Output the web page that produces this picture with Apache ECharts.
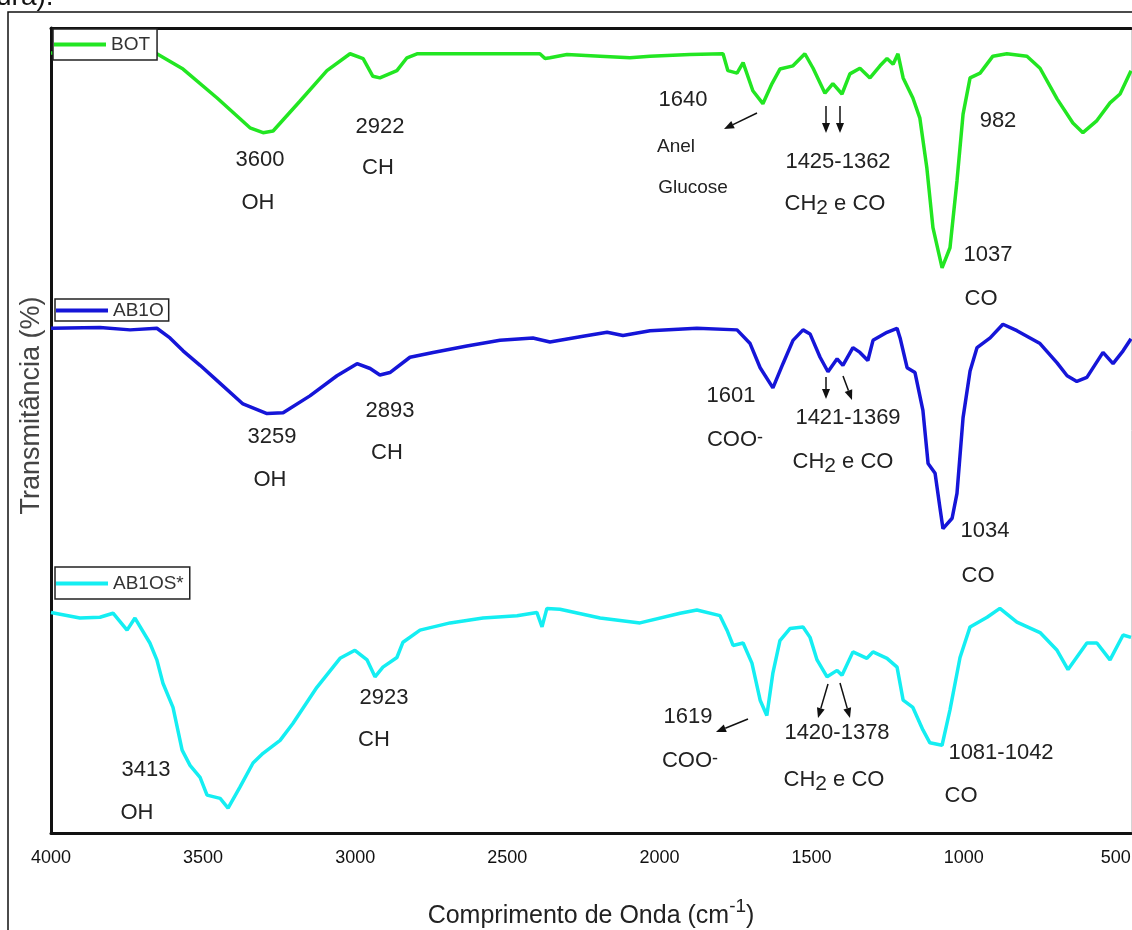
<!DOCTYPE html>
<html>
<head>
<meta charset="utf-8">
<script src="https://cdn.jsdelivr.net/npm/echarts@6/dist/echarts.min.js"></script>
<style>
  html, body { margin: 0; padding: 0; background: #fff; overflow: hidden; }
  #chart { width: 1132px; height: 930px; }
</style>
</head>
<body>
<div id="chart"></div>
<script>
// FTIR spectra: wavenumber (cm-1) and transmittance (offset, arbitrary %)
const xTicks = [4000, 3500, 3000, 2500, 2000, 1500, 1000, 500];

const botWn = [4000,3839,3652,3566,3454,3346,3303,3270,3182,3093,3017,2974,2942,2919,2863,2830,2797,2590,2393,2376,2360,2304,2195,2097,2031,1900,1791,1775,1745,1725,1693,1660,1630,1604,1561,1522,1495,1456,1430,1400,1374,1341,1308,1275,1252,1232,1216,1199,1167,1144,1121,1101,1071,1045,1022,1002,979,946,904,858,792,749,693,641,608,562,519,486,450];
const botT  = [96.9,96.9,96.8,94.9,91.3,87.6,87.0,87.2,90.9,94.7,96.8,96.2,94.0,93.8,94.7,96.3,96.8,96.8,96.8,96.2,96.3,96.7,96.5,96.3,96.5,96.7,96.8,94.7,94.4,95.7,92.2,90.6,93.1,94.9,95.3,96.8,95.0,91.9,93.1,91.8,94.3,95.0,93.8,95.3,96.2,95.5,96.8,93.8,91.3,88.8,82.6,75.2,70.2,72.7,81.0,89.3,93.8,94.4,96.5,96.8,96.5,95.0,91.2,88.2,87.0,88.5,90.7,91.8,94.7];

const ab1oWn = [4000,3839,3740,3652,3609,3566,3510,3454,3369,3290,3237,3149,3060,2994,2951,2919,2886,2820,2744,2633,2524,2416,2360,2251,2172,2120,2031,1877,1745,1702,1669,1627,1594,1561,1528,1505,1472,1446,1416,1397,1364,1341,1315,1298,1252,1219,1209,1186,1160,1134,1117,1094,1078,1068,1038,1022,1002,979,956,913,871,825,749,693,660,628,595,542,509,476,450];
const ab1oT  = [62.7,62.8,62.5,62.7,61.5,59.9,58.1,56.2,53.3,52.1,52.2,54.3,56.8,58.3,57.7,56.9,57.2,59.1,59.7,60.5,61.2,61.5,61.0,61.7,62.2,61.8,62.4,62.7,62.5,60.8,57.8,55.3,58.3,61.2,62.5,62.0,59.1,57.3,58.9,58.1,60.3,59.7,58.7,61.2,62.2,62.7,61.5,57.8,57.2,52.5,45.9,44.7,40.4,37.8,39.1,42.2,51.6,57.4,60.3,61.5,63.2,62.4,60.8,58.4,56.8,56.1,56.6,59.7,58.3,59.9,61.4];

const ab1osWn = [4000,3905,3839,3796,3750,3724,3675,3652,3632,3599,3569,3543,3510,3487,3444,3418,3379,3336,3303,3247,3205,3126,3050,3001,2961,2935,2909,2863,2843,2787,2688,2580,2468,2403,2386,2370,2327,2195,2064,1932,1877,1801,1778,1758,1725,1696,1669,1647,1627,1604,1571,1528,1505,1482,1449,1416,1400,1364,1318,1298,1252,1219,1199,1167,1134,1111,1071,1045,1012,979,923,881,825,749,693,657,595,562,519,476,450];
const ab1osT  = [27.4,26.7,26.8,27.3,25.2,26.7,23.6,21.5,18.6,15.6,10.3,8.4,6.9,4.7,4.3,3.1,5.7,8.7,9.9,11.5,13.6,18.1,21.7,22.7,21.5,19.4,20.6,21.8,23.7,25.2,26.1,26.7,27.0,27.4,25.6,27.9,27.8,26.7,26.1,27.3,27.7,27.0,25.2,23.3,23.6,21.1,16.5,14.6,19.9,23.9,25.4,25.6,24.3,21.5,19.4,20.2,19.6,22.5,21.7,22.5,21.7,20.6,16.5,15.6,12.8,11.2,10.9,15.3,21.8,25.6,26.8,27.9,26.2,24.9,22.7,20.3,23.6,23.6,21.5,24.6,24.3];

const seriesNames = ['BOT', 'AB1O', 'AB1OS*'];

// Band assignments written next to each trace
const noteFont = 'Liberation Sans, Arial, sans-serif';
const notes = [
  // BOT
  { t: '3600', x: 260, y: 160 }, { t: 'OH', x: 258, y: 203 },
  { t: '2922', x: 380, y: 127 }, { t: 'CH', x: 378, y: 168 },
  { t: '1640', x: 683, y: 100 },
  { t: 'Anel', x: 676, y: 147, small: true }, { t: 'Glucose', x: 693, y: 188, small: true },
  { t: '1425-1362', x: 838, y: 162 }, { t: '{n|CH}{s|2}{n| e CO}', x: 835, y: 206 },
  { t: '982', x: 998, y: 121 },
  { t: '1037', x: 988, y: 255 }, { t: 'CO', x: 981, y: 299 },
  // AB1O
  { t: '3259', x: 272, y: 437 }, { t: 'OH', x: 270, y: 480 },
  { t: '2893', x: 390, y: 411 }, { t: 'CH', x: 387, y: 453 },
  { t: '1601', x: 731, y: 396 }, { t: '{n|COO}{p|-}', x: 735, y: 442 },
  { t: '1421-1369', x: 848, y: 418 }, { t: '{n|CH}{s|2}{n| e CO}', x: 843, y: 464 },
  { t: '1034', x: 985, y: 531 }, { t: 'CO', x: 978, y: 576 },
  // AB1OS*
  { t: '3413', x: 146, y: 770 }, { t: 'OH', x: 137, y: 813 },
  { t: '2923', x: 384, y: 698 }, { t: 'CH', x: 374, y: 740 },
  { t: '1619', x: 688, y: 717 }, { t: '{n|COO}{p|-}', x: 690, y: 763 },
  { t: '1420-1378', x: 837, y: 733 }, { t: '{n|CH}{s|2}{n| e CO}', x: 834, y: 782 },
  { t: '1081-1042', x: 1001, y: 753 }, { t: 'CO', x: 961, y: 796 }
];

const arrows = [
  [757, 113, 724, 129], [826, 106, 826, 133], [840, 106, 840, 133],
  [826, 377, 826, 399], [843, 376, 852, 400],
  [748, 719, 716, 732], [828, 684, 818, 718], [840, 683, 850, 718]
];

function arrowShape(a) {
  const [x1, y1, x2, y2] = a;
  const dx = x2 - x1, dy = y2 - y1, L = Math.hypot(dx, dy);
  const ux = dx / L, uy = dy / L, hl = 10, hw = 4;
  const bx = x2 - ux * hl, by = y2 - uy * hl;
  return {
    type: 'group', z: 20,
    children: [
      { type: 'line', shape: { x1: x1, y1: y1, x2: bx, y2: by }, style: { stroke: '#111', lineWidth: 1.5 } },
      { type: 'polygon', shape: { points: [[x2, y2], [bx - uy * hw, by + ux * hw], [bx + uy * hw, by - ux * hw]] }, style: { fill: '#111' } }
    ]
  };
}

// n: normal run, s: subscript (lowered), p: superscript charge sign
const richStyles = {
  n: { fontSize: 22, lineHeight: 26, verticalAlign: 'top', fill: '#222', fontFamily: noteFont },
  s: { fontSize: 21, lineHeight: 14, verticalAlign: 'bottom', fill: '#222', fontFamily: noteFont },
  p: { fontSize: 18, lineHeight: 12, verticalAlign: 'top', fill: '#222', fontFamily: noteFont }
};

const graphics = [
  // outer frame of the figure
  { type: 'rect', z: 1, shape: { x: 8, y: 12, width: 1300, height: 1000 }, style: { fill: 'none', stroke: '#111', lineWidth: 1.5 } },
  { type: 'text', z: 1, style: { text: 'ura).', x: -4, y: 11, fontSize: 28, fontFamily: noteFont, fill: '#111', textVerticalAlign: 'bottom' } }
];
notes.forEach(function (n) {
  graphics.push({
    type: 'text', z: 20,
    style: {
      text: n.t, x: n.x, y: n.y,
      fontSize: n.small ? 19 : 22, fontFamily: noteFont, fill: '#222',
      textAlign: 'center', textVerticalAlign: 'middle',
      rich: n.t.indexOf('{') >= 0 ? richStyles : undefined
    }
  });
});
arrows.forEach(function (a) { graphics.push(arrowShape(a)); });

const colors = ['#22e622', '#1515d8', '#14eef2'];
const data = [
  botWn.map((w, i) => [w, botT[i]]),
  ab1oWn.map((w, i) => [w, ab1oT[i]]),
  ab1osWn.map((w, i) => [w, ab1osT[i]])
];

const legendBase = {
  orient: 'horizontal', itemWidth: 52, itemHeight: 4, itemGap: 0,
  backgroundColor: '#fff', borderColor: '#222', borderWidth: 1.5, borderRadius: 0,
  textStyle: { fontSize: 19, color: '#333', fontFamily: noteFont },
  z: 10
};

const chart = echarts.init(document.getElementById('chart'), null, { renderer: 'canvas' });
chart.setOption({
  animation: false,
  backgroundColor: '#fff',
  color: colors,
  grid: { left: 51, top: 28, width: 1080, height: 805, containLabel: false, outerBoundsMode: 'none' },
  legend: [
    Object.assign({}, legendBase, { data: [{ name: seriesNames[0], icon: 'rect' }], left: 53, top: 29, padding: [6, 7, 6, 1] }),
    Object.assign({}, legendBase, { data: [{ name: seriesNames[1], icon: 'rect' }], left: 55, top: 299, padding: [2, 5, 1, 1] }),
    Object.assign({}, legendBase, { data: [{ name: seriesNames[2], icon: 'rect' }], left: 55, top: 567, padding: [7, 6, 6, 1] })
  ],
  xAxis: [
    {
      type: 'value', min: 450, max: 4000, inverse: true, position: 'bottom',
      name: '{a|Comprimento de Onda (cm}{b|-1}{a|)}',
      nameLocation: 'middle', nameGap: 64,
      nameTextStyle: {
        rich: {
          a: { fontSize: 25, lineHeight: 32, verticalAlign: 'bottom', color: '#222', fontFamily: noteFont },
          b: { fontSize: 19, lineHeight: 18, verticalAlign: 'top', color: '#222', fontFamily: noteFont }
        }
      },
      axisLine: { show: true, onZero: false, lineStyle: { color: '#111', width: 3 } },
      axisTick: { show: false },
      splitLine: { show: false },
      axisLabel: {
        customValues: xTicks, margin: 16,
        formatter: function (v) { return String(v); },
        fontSize: 18, color: '#111',
        fontFamily: "'Liberation Sans Narrow', 'Arial Narrow', 'Liberation Sans', sans-serif"
      }
    },
    {
      type: 'value', min: 450, max: 4000, inverse: true, position: 'top',
      axisLine: { show: true, onZero: false, lineStyle: { color: '#111', width: 3 } },
      axisTick: { show: false }, axisLabel: { show: false }, splitLine: { show: false }
    }
  ],
  yAxis: [
    {
      type: 'value', min: 0, max: 100, position: 'left',
      name: 'Transmitância (%)', nameLocation: 'middle', nameGap: 6,
      nameTextStyle: { fontSize: 27, color: '#444', fontFamily: noteFont, padding: [0, 0, 0, 50] },
      axisLine: { show: true, onZero: false, lineStyle: { color: '#111', width: 3 } },
      axisTick: { show: false }, axisLabel: { show: false }, splitLine: { show: false }
    },
    {
      type: 'value', min: 0, max: 100, position: 'right',
      axisLine: { show: true, onZero: false, lineStyle: { color: '#d4d4d4', width: 1 } },
      axisTick: { show: false }, axisLabel: { show: false }, splitLine: { show: false }
    }
  ],
  series: seriesNames.map(function (name, i) {
    return {
      name: name, type: 'line', data: data[i],
      xAxisIndex: 0, yAxisIndex: 0,
      symbol: 'none', smooth: false,
      lineStyle: { width: 3.5, color: colors[i] },
      itemStyle: { color: colors[i] },
      z: 2
    };
  }),
  graphic: graphics
});
</script>
</body>
</html>
